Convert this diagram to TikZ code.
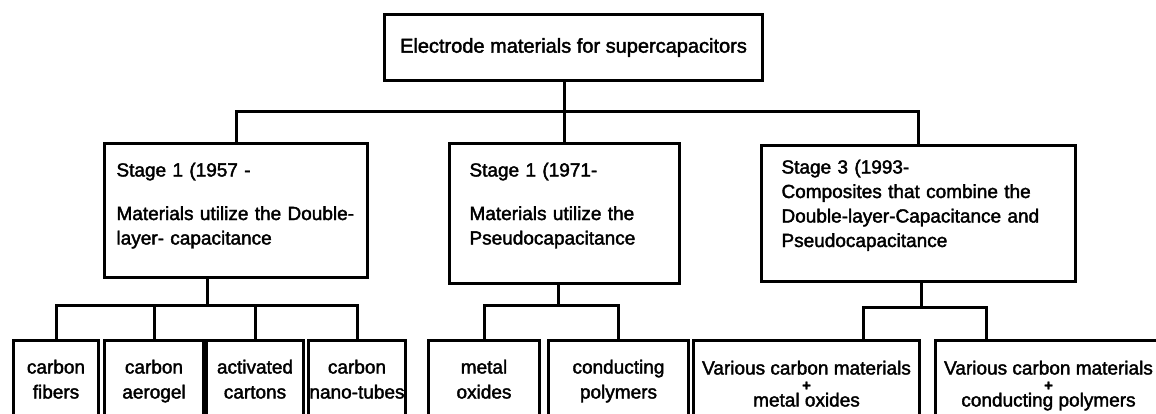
\documentclass[tikz,border=0pt]{standalone}
\usepackage{fontspec}
\setmainfont{Liberation Sans}[FakeBold=2]
\usetikzlibrary{positioning}
\tikzset{
  box/.style={draw, line width=3pt, anchor=north west, inner sep=0pt},
  stagebox/.style={box, align=left, inner ysep=0pt, font=\fontsize{19}{24.5}\selectfont},
  leafbox/.style={box, align=center, text height=58pt, text depth=32pt, font=\fontsize{19}{25}\selectfont},
  mixbox/.style={leafbox, text height=66pt, text depth=24pt},
  link/.style={line width=3pt},
}
\begin{document}
\begin{tikzpicture}[x=1pt, y=-1pt]
  \useasboundingbox (0,0) rectangle (1156,413);
  \clip (0,0) rectangle (1156,413);
  % top
  \node[box, minimum width=378pt, minimum height=66pt, font=\fontsize{20}{24}\selectfont] (root) at (383,13) {Electrode materials for supercapacitors};
  % stages
  \node[stagebox, inner xsep=12pt, text width=239pt, text height=33pt, text depth=101pt] (stage1) at (103,142)
    {Stage 1 (1957 -\\[19pt]Materials utilize the Double-\\layer- capacitance};
  \node[stagebox, inner xsep=20pt, text width=190pt, text height=33pt, text depth=107pt] (stage2) at (448,142)
    {Stage 1 (1971-\\[19pt]Materials utilize the\\Pseudocapacitance};
  \node[stagebox, inner xsep=20pt, text width=274pt, text height=28pt, text depth=108pt] (stage3) at (760,144)
    {Stage 3 (1993-\\Composites that combine the\\Double-layer-Capacitance and\\Pseudocapacitance};
  % materials
  \node[leafbox, minimum width=85pt] (fibers) at (12,339) {carbon\\fibers};
  \node[leafbox, minimum width=99pt] (aerogel) at (103,339) {carbon\\aerogel};
  \node[leafbox, minimum width=97pt] (cartons) at (205,339) {activated\\cartons};
  \node[leafbox, minimum width=97pt] (tubes) at (307,339) {carbon\\nano-tubes};
  \node[leafbox, minimum width=111pt] (oxides) at (427,339) {metal\\oxides};
  \node[leafbox, minimum width=140pt] (polymers) at (547,339) {conducting\\polymers};
  \node[mixbox, minimum width=226pt] (mixox) at (692,339)
    {Various carbon materials\\[-9pt]{\fontsize{15}{15}\selectfont\bfseries +}\\[-9pt]metal oxides};
  \node[mixbox, minimum width=226pt] (mixpol) at (934,339)
    {Various carbon materials\\[-9pt]{\fontsize{15}{15}\selectfont\bfseries +}\\[-9pt]conducting polymers};
  % connectors
  \path (root.south) ++(0,29) coordinate (hub);
  \draw[link] (stage1.north) |- (hub) -| (stage3.north);
  \draw[link] (root.south -| stage2.north) -- (stage2.north);

  \coordinate (hub1) at (207,305);
  \draw[link] (stage1.south -| hub1) -- (hub1);
  \draw[link] (fibers.north) |- (hub1) -| (tubes.north);
  \draw[link] (aerogel.north) -- (aerogel.north |- hub1);
  \draw[link] (cartons.north) -- (cartons.north |- hub1);

  \coordinate (hub2) at (558,305);
  \draw[link] (stage2.south -| hub2) -- (hub2);
  \draw[link] (oxides.north) |- (hub2) -| (polymers.north);

  \coordinate (hub3) at (921,307);
  \coordinate (tap3l) at (863,307);
  \coordinate (tap3r) at (986,307);
  \draw[link] (stage3.south -| hub3) -- (hub3);
  \draw[link] (mixox.north -| tap3l) |- (tap3r) -- (mixpol.north -| tap3r);
\end{tikzpicture}
\end{document}
